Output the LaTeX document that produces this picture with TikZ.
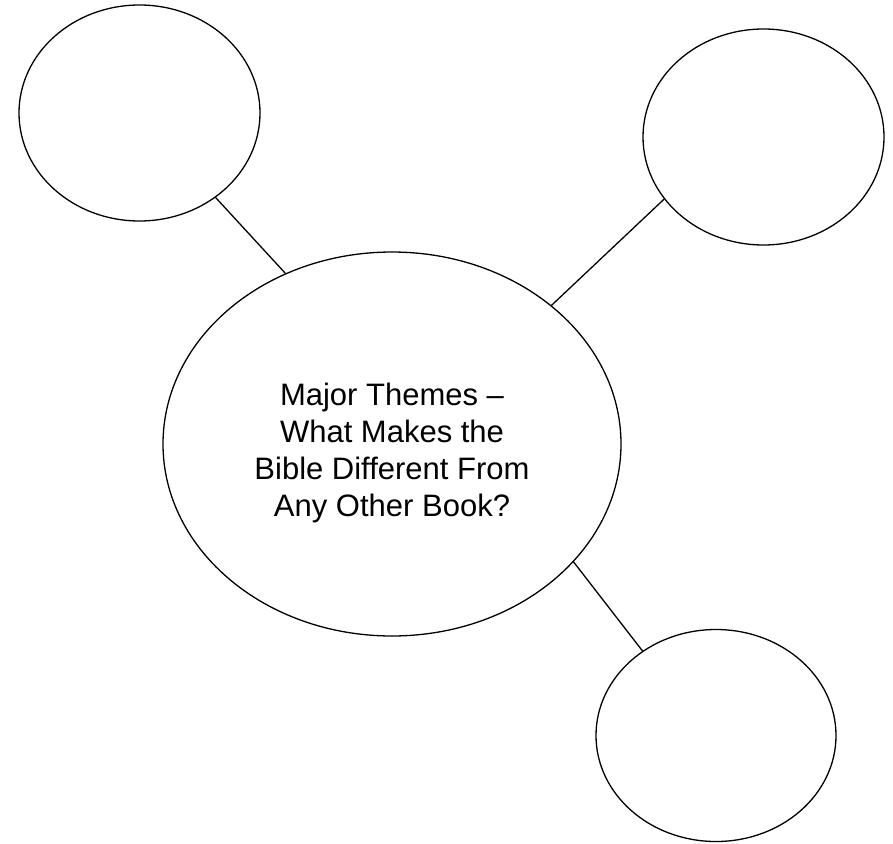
\documentclass[tikz,border=0pt]{standalone}
\usepackage{fontspec}
\setmainfont{Liberation Sans}
\usetikzlibrary{shapes.geometric}
\begin{document}
\begin{tikzpicture}[x=1pt,y=-1pt,
  bubble/.style={draw,ellipse,line width=1.3pt,inner sep=0pt},
  link/.style={line width=1.3pt},
  label text/.style={align=center,inner sep=0pt,font=\fontsize{31}{36.7}\selectfont}]
\useasboundingbox (0,0) rectangle (893,843);
\node[bubble,minimum width=241pt,minimum height=216pt] (tl) at (139.5,113) {};
\node[bubble,minimum width=241pt,minimum height=216pt] (tr) at (763.5,137) {};
\node[bubble,minimum width=458pt,minimum height=384pt] (c) at (392,444) {};
\node[label text] (ctext) at (392,453)
  {Major Themes –\\What Makes the\\Bible Different From\\Any Other Book?};
\node[bubble,minimum width=240pt,minimum height=212pt] (br) at (716,735.5) {};
\draw[link] (tl.-48.8) -- (c.122.7);
\draw[link] (tr.212.1) -- (c.41.1);
\draw[link] (c.-33.4) -- (br.131.5);
\end{tikzpicture}
\end{document}
